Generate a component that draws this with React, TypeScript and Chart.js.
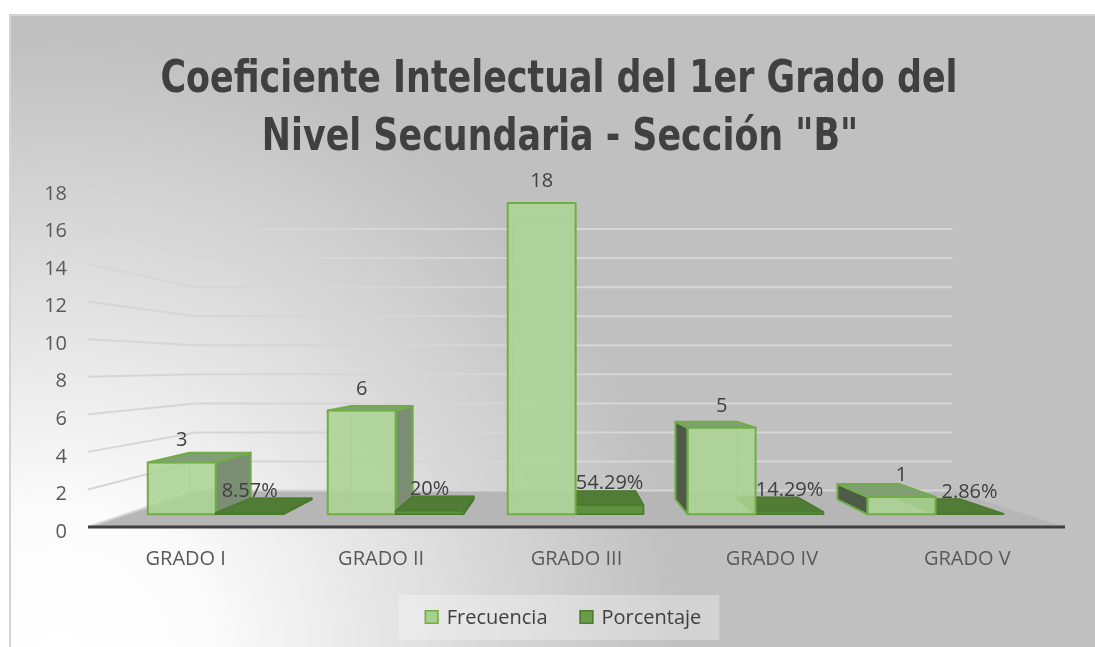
import React, { useEffect, useRef } from "react";
import { Chart, registerables } from "chart.js";

Chart.register(...registerables);

// ---------- data ----------
const categories = ["GRADO I", "GRADO II", "GRADO III", "GRADO IV", "GRADO V"];
const frecuencia = [3, 6, 18, 5, 1];
const porcentaje = [0.0857, 0.2, 0.5429, 0.1429, 0.0286];
const seriesNames = ["Frecuencia", "Porcentaje"];
const titleLines = ["Coeficiente Intelectual del 1er Grado del", 'Nivel Secundaria - Sección "B"'];
const yMin = 0;
const yMax = 18;
const yStep = 2;

// ---------- styles ----------
const TEXT = "#404040";
const AXIS_TEXT = "#595959";
const UI_FONT = "'Open Sans', 'Noto Sans', sans-serif";
const TITLE_FONT = "'DejaVu Sans Condensed', 'DejaVu Sans', sans-serif";
const TITLE_WIDTH = 797; // target pixel width of the first title line

const boxStyles = [
  {
    front: "rgba(172,212,148,0.88)",
    top: "#819f75",
    sideLeft: "#4e5b49",
    sideRight: "#7b8d73",
    border: "#70ad47",
    hidden: "rgba(112,173,71,0.55)",
    lw: 2,
    legendFill: "#a9d18e",
    legendBorder: "#70ad47",
  },
  {
    front: "#5e9040",
    top: "#507c36",
    sideLeft: "#3d5b2b",
    sideRight: "#47693a",
    border: "#4a7a2c",
    hidden: "rgba(74,122,44,0.6)",
    lw: 1.5,
    legendFill: "#6a9b4b",
    legendBorder: "#4e7d31",
  },
];

// perspective parameters (pixels / scale factors)
const PERSP = { vxOff: -11, vyUp: 161, sFront: 0.921, sBack: 0.829, sWall: 0.774 };

function vp(ca: any) {
  return { vx: (ca.left + ca.right) / 2 + PERSP.vxOff, vy: ca.bottom - PERSP.vyUp };
}
function proj(ca: any, x: number, y: number, s: number): [number, number] {
  const { vx, vy } = vp(ca);
  return [vx + (x - vx) * s, vy + (y - vy) * s];
}
function poly(ctx: CanvasRenderingContext2D, pts: [number, number][]) {
  ctx.beginPath();
  ctx.moveTo(pts[0][0], pts[0][1]);
  for (let i = 1; i < pts.length; i++) ctx.lineTo(pts[i][0], pts[i][1]);
  ctx.closePath();
}
function fmtLabel(dsIndex: number, v: number) {
  if (dsIndex === 1) return `${+(v * 100).toFixed(2)}%`;
  return String(v);
}

const scenePlugin = {
  id: "scene3d",
  beforeDraw(chart: any) {
    const { ctx, width, height } = chart;
    ctx.save();
    ctx.fillStyle = "#ffffff";
    ctx.fillRect(0, 0, width, height);
    const g = ctx.createRadialGradient(60, 660, 0, 60, 660, 620);
    g.addColorStop(0, "#ffffff");
    g.addColorStop(0.25, "#fbfbfb");
    g.addColorStop(1, "#c0c0c0");
    ctx.fillStyle = g;
    ctx.fillRect(10, 15, width - 10, height - 15);
    ctx.strokeStyle = "#d4d4d4";
    ctx.lineWidth = 2;
    ctx.beginPath();
    ctx.moveTo(10, height);
    ctx.lineTo(10, 15);
    ctx.lineTo(width, 15);
    ctx.stroke();

    // title (condensed horizontally to match the narrow original face)
    ctx.fillStyle = TEXT;
    ctx.font = `bold 44px ${TITLE_FONT}`;
    ctx.textAlign = "center";
    ctx.textBaseline = "alphabetic";
    const w0 = ctx.measureText(titleLines[0]).width;
    const k = Math.min(1, TITLE_WIDTH / w0);
    const baselines = [92, 150];
    const centers = [559, 560];
    titleLines.forEach((t, i) => {
      ctx.save();
      ctx.translate(centers[i], baselines[i]);
      ctx.scale(k, 1);
      ctx.fillText(t, 0, 0);
      ctx.restore();
    });

    // legend
    ctx.font = `20px ${UI_FONT}`;
    const sq = 14;
    const gapTxt = 8;
    const gapItem = 32;
    const widths = seriesNames.map((n) => ctx.measureText(n).width);
    const total = widths.reduce((a, w) => a + sq + gapTxt + w, 0) + gapItem * (seriesNames.length - 1);
    let x = 563 - total / 2;
    const cy = 617;
    ctx.fillStyle = "rgba(255,255,255,0.3)";
    ctx.fillRect(x - 26, 595, total + 44, 45);
    seriesNames.forEach((n, i) => {
      const st = boxStyles[i];
      ctx.fillStyle = st.legendFill;
      ctx.fillRect(x, cy - sq / 2, sq, sq);
      ctx.strokeStyle = st.legendBorder;
      ctx.lineWidth = 1.5;
      ctx.strokeRect(x + 0.75, cy - sq / 2 + 0.75, sq - 1.5, sq - 1.5);
      ctx.fillStyle = TEXT;
      ctx.textAlign = "left";
      ctx.textBaseline = "middle";
      ctx.fillText(n, x + sq + gapTxt, cy + 1);
      x += sq + gapTxt + widths[i] + gapItem;
    });
    ctx.restore();
  },
  beforeDatasetsDraw(chart: any) {
    const { ctx, chartArea: ca } = chart;
    const yScale = chart.scales.y;
    ctx.save();
    // floor
    const f1 = proj(ca, ca.left, ca.bottom, 1);
    const f2 = proj(ca, ca.left, ca.bottom, PERSP.sWall);
    const f3 = proj(ca, ca.right, ca.bottom, PERSP.sWall);
    const f4 = proj(ca, ca.right, ca.bottom, 1);
    ctx.fillStyle = "#b6b6b6";
    poly(ctx, [f1, f2, f3, f4]);
    ctx.fill();
    // gridlines: left wall + back wall
    ctx.strokeStyle = "#d6d6d6";
    ctx.lineWidth = 2;
    yScale.ticks.forEach((t: any) => {
      const yp = yScale.getPixelForValue(t.value);
      const a: [number, number] = [ca.left, yp];
      const b = proj(ca, ca.left, yp, PERSP.sWall);
      const c = proj(ca, ca.right, yp, PERSP.sWall);
      ctx.beginPath();
      ctx.moveTo(a[0], a[1]);
      ctx.lineTo(b[0], b[1]);
      ctx.lineTo(c[0], c[1]);
      ctx.stroke();
    });
    // front axis line
    ctx.strokeStyle = "#3f3f3f";
    ctx.lineWidth = 3;
    ctx.beginPath();
    ctx.moveTo(ca.left, ca.bottom);
    ctx.lineTo(ca.right, ca.bottom);
    ctx.stroke();
    ctx.restore();
  },
  beforeDatasetDraw() {
    return false;
  },
  afterDatasetsDraw(chart: any) {
    const { ctx, chartArea: ca } = chart;
    const { vx } = vp(ca);
    const items: any[] = [];
    chart.data.datasets.forEach((ds: any, di: number) => {
      const meta = chart.getDatasetMeta(di);
      meta.data.forEach((el: any, i: number) => {
        const p = el.getProps(["x", "y", "base", "width"], true);
        items.push({ di, i, ...p, value: ds.data[i] });
      });
    });
    items.sort((a, b) => Math.abs(b.x - vx) - Math.abs(a.x - vx));
    ctx.save();
    ctx.lineJoin = "round";
    const labels: any[] = [];
    items.forEach((it) => {
      const st = boxStyles[it.di];
      const xL = it.x - it.width / 2;
      const xR = it.x + it.width / 2;
      const sF = PERSP.sFront;
      const sB = PERSP.sBack;
      const fTL = proj(ca, xL, it.y, sF), fTR = proj(ca, xR, it.y, sF);
      const fBL = proj(ca, xL, it.base, sF), fBR = proj(ca, xR, it.base, sF);
      const bTL = proj(ca, xL, it.y, sB), bTR = proj(ca, xR, it.y, sB);
      const bBL = proj(ca, xL, it.base, sB), bBR = proj(ca, xR, it.base, sB);
      // hidden edges
      ctx.strokeStyle = st.hidden;
      ctx.lineWidth = 1.2;
      poly(ctx, [bTL, bTR, bBR, bBL]);
      ctx.stroke();
      ctx.beginPath();
      ctx.moveTo(fBL[0], fBL[1]);
      ctx.lineTo(bBL[0], bBL[1]);
      ctx.moveTo(fBR[0], fBR[1]);
      ctx.lineTo(bBR[0], bBR[1]);
      ctx.stroke();
      ctx.strokeStyle = st.border;
      ctx.lineWidth = st.lw;
      if (fTL[0] > vx) {
        ctx.fillStyle = st.sideLeft;
        poly(ctx, [fTL, bTL, bBL, fBL]);
        ctx.fill();
        ctx.stroke();
      }
      if (fTR[0] < vx) {
        ctx.fillStyle = st.sideRight;
        poly(ctx, [fTR, bTR, bBR, fBR]);
        ctx.fill();
        ctx.stroke();
      }
      if (bTL[1] < fTL[1]) {
        ctx.fillStyle = st.top;
        poly(ctx, [fTL, fTR, bTR, bTL]);
        ctx.fill();
        ctx.stroke();
      }
      ctx.fillStyle = st.front;
      poly(ctx, [fTL, fTR, fBR, fBL]);
      ctx.fill();
      ctx.stroke();
      labels.push({ x: (fTL[0] + fTR[0]) / 2, y: fTL[1] - 16, text: fmtLabel(it.di, it.value) });
    });
    ctx.fillStyle = TEXT;
    ctx.font = `20px ${UI_FONT}`;
    ctx.textAlign = "center";
    ctx.textBaseline = "alphabetic";
    labels.forEach((l) => ctx.fillText(l.text, l.x, l.y));
    ctx.restore();
  },
};

export default function App() {
  const ref = useRef<HTMLCanvasElement | null>(null);
  useEffect(() => {
    document.body.style.margin = "0";
    const canvas = ref.current;
    if (!canvas) return;
    const chart = new Chart(canvas, {
      type: "bar",
      data: {
        labels: categories,
        datasets: [
          {
            label: seriesNames[0],
            data: frecuencia,
            backgroundColor: boxStyles[0].legendFill,
            borderColor: boxStyles[0].legendBorder,
          },
          {
            label: seriesNames[1],
            data: porcentaje,
            backgroundColor: boxStyles[1].legendFill,
            borderColor: boxStyles[1].legendBorder,
          },
        ],
      },
      options: {
        responsive: false,
        animation: false,
        devicePixelRatio: 1,
        layout: { padding: { top: 189, left: 10, right: 30, bottom: 0 } },
        datasets: { bar: { categoryPercentage: 0.755, barPercentage: 1 } },
        plugins: {
          legend: { display: false },
          title: { display: false },
          tooltip: { enabled: false },
        },
        scales: {
          x: {
            grid: { display: false, drawTicks: false },
            border: { display: false },
            ticks: { color: AXIS_TEXT, font: { family: UI_FONT, size: 20 }, padding: 20, maxRotation: 0 },
            afterFit: (s: any) => {
              s.height = 120;
            },
          },
          y: {
            min: yMin,
            max: yMax,
            grid: { display: false, drawTicks: false },
            border: { display: false },
            ticks: {
              stepSize: yStep,
              color: AXIS_TEXT,
              font: { family: UI_FONT, size: 20 },
              padding: 21,
              labelOffset: 5,
            },
            afterFit: (s: any) => {
              s.width = 78;
            },
          },
        },
      },
      plugins: [scenePlugin],
    } as any);
    return () => chart.destroy();
  }, []);
  return (
    <div style={{ width: 1095, height: 647 }}>
      <canvas ref={ref} width={1095} height={647} style={{ display: "block" }} />
    </div>
  );
}
